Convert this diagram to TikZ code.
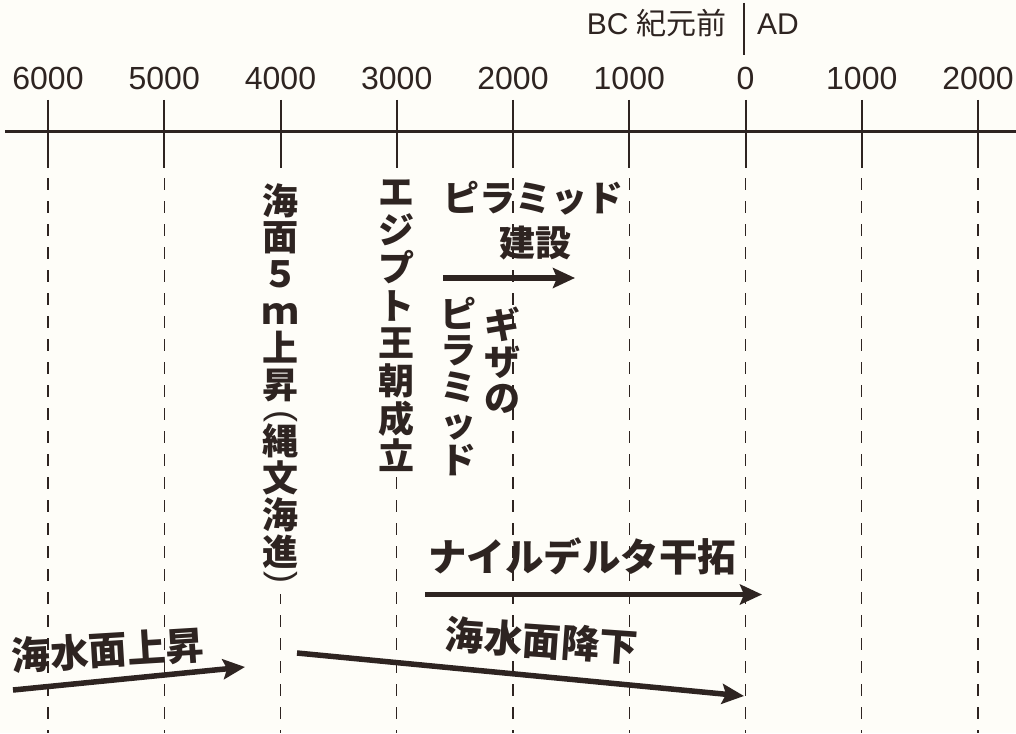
\documentclass[tikz,border=0pt]{standalone}
\usepackage{fontspec}
\setmainfont{Liberation Sans}
\newfontfamily\jp{Noto Sans CJK JP}
\usetikzlibrary{arrows.meta}
\definecolor{ink}{HTML}{2E2421}
\definecolor{bg}{HTML}{FEFDF8}
\begin{document}
\begin{tikzpicture}[x=1pt,y=-1pt,
  num/.style={font=\fontsize{32}{36}\selectfont, text=ink, inner sep=0},
  toplab/.style={font=\fontsize{30}{34}\selectfont, text=ink, inner sep=0},
  axisline/.style={draw=ink, line width=3pt},
  tickline/.style={draw=ink, line width=2pt},
  guide/.style={draw=ink, line width=1.3pt, dash pattern=on 12pt off 11pt},
  vcol/.style={font=\jp\bfseries\fontsize{36}{36.8}\selectfont, text=ink, align=center, inner sep=0},
  vcolb/.style={font=\jp\bfseries\fontsize{36}{37.7}\selectfont, text=ink, align=center, inner xsep=2pt, inner ysep=4pt, fill=bg},
  vtxt/.style={font=\jp\bfseries\fontsize{36}{36.5}\selectfont, text=ink, align=center, inner sep=0},
  paren/.style={font=\fontsize{36}{36}\selectfont, text=ink, inner sep=0, rotate=-90},
  jlab/.style={font=\jp\bfseries\fontsize{36}{40}\selectfont, text=ink, inner sep=0},
  jlabl/.style={font=\jp\bfseries\fontsize{38.5}{42}\selectfont, text=ink, inner sep=0},
  arr/.style={draw=ink, line width=5.5pt, -{Stealth[length=22pt,width=20pt,inset=4pt]}}]
\fill[bg] (0,0) rectangle (1016,733);
\useasboundingbox (0,0) rectangle (1016,733);

% axis
\coordinate (axL) at (5,131);
\coordinate (axR) at (1016,131);
\draw[axisline] (axL) -- (axR);

% ticks, labels, guides
\foreach \i/\lab in {0/6000,1/5000,2/4000,3/3000,4/2000,5/1000,6/0,7/1000,8/2000}{
  \node[num] (lab\i) at ({48+116.25*\i},78.5) {\lab};
  \coordinate (tt\i) at ({48+116.25*\i},100);
  \coordinate (tb\i) at ({48+116.25*\i},168);
  \coordinate (gt\i) at ({48+116.25*\i},178);
  \coordinate (gb\i) at ({48+116.25*\i},733);
  \draw[tickline] (tt\i) -- (tb\i);
  \draw[guide] (gt\i) -- (gb\i);
}

% BC / AD header
\node[toplab, anchor=base east] (bc) at (727,35) {BC {\jp 紀元前}};
\node[toplab, anchor=base west] (ad) at (757,35) {AD};
\coordinate (divT) at (744,3);
\coordinate (divB) at (744,55);
\draw[tickline] (divT) -- (divB);

% vertical columns
\fill[bg] (262,172) rectangle (298,594);
\node[vcol, anchor=north] (c1a) at (280,183) {海\\面\\５\\ｍ\\上\\昇};
\node[paren] (p1) at (281,416) {(};
\node[vcol, anchor=north] (c1b) at (280,424) {縄\\文\\海\\進};
\node[paren] (p2) at (281,577) {)};
\node[vcolb, anchor=north] (c2) at (396,176) {エ\\ジ\\プ\\ト\\王\\朝\\成\\立};
\node[vtxt, anchor=north] (c3) at (458,297) {ピ\\ラ\\ミ\\ッ\\ド};
\node[vtxt, anchor=north] (c4) at (502,307) {ギ\\ザ\\の};

% pyramid construction
\node[jlab] (pyr) at (533,198) {ピラミッド};
\node[jlab] (ken) at (535,243) {建設};
\coordinate (pA) at (443,278);
\coordinate (pB) at (575,278);
\draw[arr] (pA) -- (pB);

% Nile delta
\node[jlabl] (nile) at (582,556) {ナイルデルタ干拓};
\coordinate (nA) at (425,594.5);
\coordinate (nB) at (762,594.5);
\draw[arr] (nA) -- (nB);

% sea level rise
\node[jlabl, rotate=3.5] (rise) at (108,650) {海水面上昇};
\coordinate (rA) at (13,690);
\coordinate (rB) at (245,667);
\draw[arr] (rA) -- (rB);

% sea level fall
\node[jlabl, rotate=-4] (fall) at (542,641) {海水面降下};
\coordinate (fA) at (297,653);
\coordinate (fB) at (744,696);
\draw[arr] (fA) -- (fB);
\end{tikzpicture}
\end{document}
